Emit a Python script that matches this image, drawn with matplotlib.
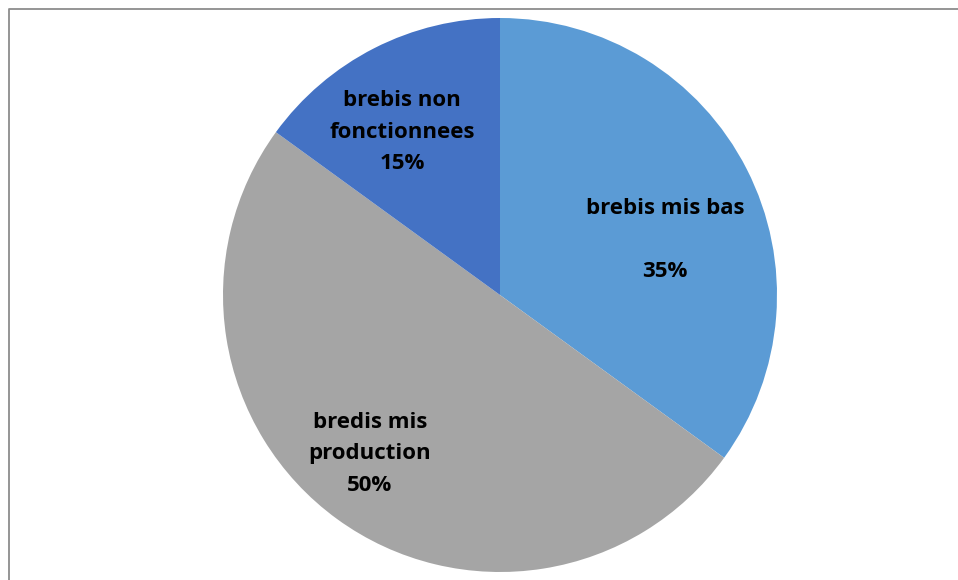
import matplotlib.pyplot as plt

categories = ["brebis mis bas", "bredis mis\nproduction", "brebis non\nfonctionnees"]
shares = [35, 50, 15]
pct_labels = ["35%", "50%", "15%"]
colors = ["#5B9BD5", "#A5A5A5", "#4472C4"]

# label positions in pixel coordinates (x from left, y from top)
label_pos = [(665, 240), (370, 454), (402, 132)]
label_sep = ["\n\n", "\n", "\n"]

W, H = 958, 580
fig = plt.figure(figsize=(W / 100, H / 100), dpi=100)
ax = fig.add_axes([0, 0, 1, 1])

# chart border (only left and top visible in crop)
ax.plot([9.5, 9.5, W + 5], [-5, H - 8.5, H - 8.5], color="#8c8c8c", lw=1.3)

ax.pie(shares, colors=colors, startangle=90, counterclock=False,
       center=(500, H - 295), radius=277, frame=True,
       wedgeprops=dict(linewidth=0))
ax.set_xlim(0, W)
ax.set_ylim(0, H)
ax.set_aspect("equal")
ax.axis("off")

for cat, pct, sep, (x, y) in zip(categories, pct_labels, label_sep, label_pos):
    ax.text(x, H - y, cat + sep + pct, ha="center", va="center",
            fontsize=16, fontweight="bold", family="Open Sans",
            linespacing=1.65, color="black")

fig.savefig("out.png", dpi=100)
